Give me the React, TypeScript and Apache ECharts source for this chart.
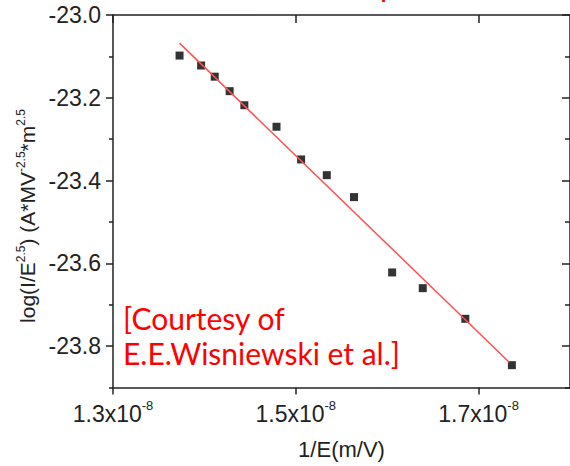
import React, { useEffect, useRef } from "react";
import * as echarts from "echarts";

// 1/E in units of 1e-8 m/V
const invE = [1.3728, 1.3964, 1.4113, 1.4276, 1.4437, 1.4789, 1.5058, 1.5339, 1.5637, 1.6054, 1.6389, 1.6855, 1.7364];
// log(I/E^2.5)
const logIE = [-23.098, -23.122, -23.149, -23.184, -23.218, -23.27, -23.349, -23.387, -23.44, -23.622, -23.66, -23.734, -23.846];
// linear fit endpoints
const fitX = [1.3728, 1.7335];
const fitY = [-23.068, -23.839];

const xTicks = [1.3, 1.5, 1.7];
const yMajor = [-23.8, -23.6, -23.4, -23.2, -23.0];
const yMinor = [-23.9, -23.7, -23.5, -23.3, -23.1];

const FONT = "'Liberation Sans', Arial, sans-serif";
const INK = "#222";

export default function App() {
  const ref = useRef<HTMLDivElement>(null);
  useEffect(() => {
    if (!ref.current) return;
    const chart = echarts.init(ref.current, undefined, { renderer: "svg" });
    const grid = { left: 113, top: 15, width: 458.5, height: 372.5 };
    const yBase = { type: "value", min: -23.9, max: -23.0, interval: 0.1, splitLine: { show: false } };
    const xBase = { type: "value", min: 1.3, max: 1.8, interval: 0.1, splitLine: { show: false } };
    chart.setOption({
      animation: false,
      backgroundColor: "#fff",
      grid,
      xAxis: [
        {
          ...xBase,
          position: "bottom",
          axisLine: { lineStyle: { color: INK, width: 1.5 } },
          axisTick: { inside: false, length: 7, customValues: xTicks, lineStyle: { color: INK, width: 1.5 } },
          axisLabel: {
            customValues: xTicks,
            margin: 11,
            formatter: (v: number) => `{a|${v.toFixed(1)}x10}{s|-8}`,
            rich: {
              a: { fontSize: 23, fontFamily: FONT, color: INK, lineHeight: 30 },
              s: { fontSize: 13, fontFamily: FONT, color: INK, lineHeight: 14, verticalAlign: "top" },
            },
          },
          name: "1/E(m/V)",
          nameLocation: "middle",
          nameGap: 51,
          nameTextStyle: { fontSize: 22, fontFamily: FONT, color: INK },
        },
        {
          ...xBase,
          position: "top",
          axisLine: { lineStyle: { color: INK, width: 1.5 } },
          axisTick: { inside: true, length: 8, customValues: xTicks, lineStyle: { color: INK, width: 1.5 } },
          axisLabel: { show: false },
        },
      ],
      yAxis: [
        {
          ...yBase,
          position: "left",
          axisLine: { lineStyle: { color: INK, width: 1.5 } },
          axisTick: { inside: false, length: 7, customValues: yMajor, lineStyle: { color: INK, width: 1.5 } },
          axisLabel: {
            customValues: yMajor,
            margin: 12,
            formatter: (v: number) => v.toFixed(1),
            fontSize: 23,
            fontFamily: FONT,
            color: INK,
          },
        },
        {
          ...yBase,
          position: "left",
          axisLine: { show: false },
          axisTick: { inside: false, length: 4, customValues: yMinor, lineStyle: { color: INK, width: 1.5 } },
          axisLabel: { show: false },
        },
        {
          ...yBase,
          position: "right",
          axisLine: { lineStyle: { color: INK, width: 1.5 } },
          axisTick: { inside: true, length: 8, customValues: yMajor, lineStyle: { color: INK, width: 1.5 } },
          axisLabel: { show: false },
        },
        {
          ...yBase,
          position: "right",
          axisLine: { show: false },
          axisTick: { inside: true, length: 5, customValues: yMinor, lineStyle: { color: INK, width: 1.5 } },
          axisLabel: { show: false },
        },
      ],
      series: [
        {
          type: "scatter",
          xAxisIndex: 0,
          yAxisIndex: 0,
          symbol: "rect",
          symbolSize: 8,
          itemStyle: { color: "#000" },
          data: invE.map((x, i) => [x, logIE[i]]),
        },
        {
          type: "line",
          xAxisIndex: 0,
          yAxisIndex: 0,
          symbol: "none",
          lineStyle: { color: "#ff5050", width: 1.5 },
          data: fitX.map((x, i) => [x, fitY[i]]),
        },
      ],
      graphic: [
        {
          type: "text",
          x: 27,
          y: 216,
          rotation: Math.PI / 2,
          style: {
            text: "{a|log(I/E}{s|2.5}{a|) (A*MV}{s|-2.5}{a|*m}{s|2.5}",
            align: "center",
            verticalAlign: "middle",
            rich: {
              a: { fontSize: 21, fontFamily: FONT, fill: INK, lineHeight: 25 },
              s: { fontSize: 12, fontFamily: FONT, fill: INK, lineHeight: 12, verticalAlign: "top" },
            },
          },
        },
        {
          type: "text",
          left: 123,
          top: 300,
          style: {
            text: "[Courtesy of\nE.E.Wisniewski et al.]",
            fontFamily: "Lato, 'Open Sans', sans-serif",
            fontSize: 30,
            lineHeight: 35,
            fill: "#ff0000",
          },
        },
        {
          type: "text",
          x: 380,
          y: -14.6,
          style: {
            text: "p",
            fontFamily: "Lato, sans-serif",
            fontSize: 31,
            verticalAlign: "middle",
            fill: "#ff0000",
          },
        },
      ],
    });
    return () => chart.dispose();
  }, []);
  return (
    <div
      ref={ref}
      style={{ position: "absolute", left: 0, top: 0, width: 570, height: 466, background: "#fff" }}
    />
  );
}
